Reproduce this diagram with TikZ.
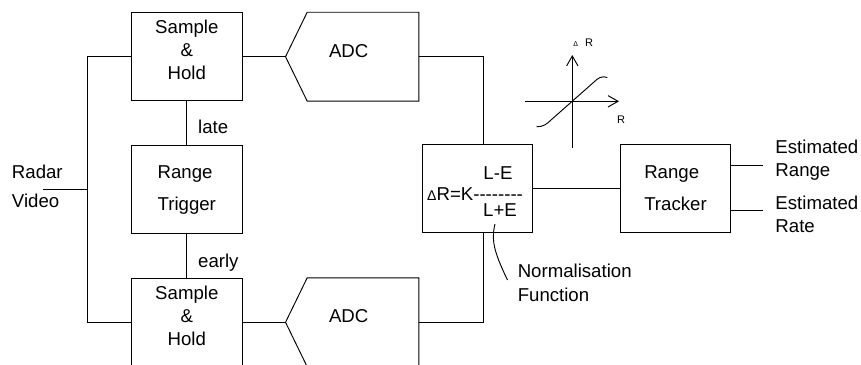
\documentclass[tikz,border=0pt]{standalone}
\usepackage{fontspec}
\setmainfont{Liberation Sans}
\usetikzlibrary{arrows.meta}

\begin{document}
\begin{tikzpicture}[x=0.03cm,y=-0.03cm,line width=0.8pt,>={Straight Barb[length=0.3cm,width=0.34cm]},
  txt/.style={inner sep=0pt,align=left,font=\fontsize{15.9}{19}\selectfont},
  box/.style={draw,minimum width=3.31cm,minimum height=2.64cm,inner sep=0pt,font=\fontsize{15.9}{19.5}\selectfont},
  shbox/.style={box,align=center,text height=1.77cm,text depth=0.4cm},
  rbox/.style={box,align=left,font=\fontsize{15.9}{27.5}\selectfont},
  adc/.style={box,draw=none,text width=2.04cm,inner xsep=0.64cm,text height=0.3cm,text depth=0.26cm},
  small/.style={inner sep=0pt,font=\fontsize{9.4}{9.4}\selectfont}]
\clip (0,0) rectangle (861,365);
\fill[white] (0,0) rectangle (861,365);
% front end
\node[shbox] (sh1) at (186.8,56.7) {Sample\\\&\\Hold};
\node[rbox] (rt) at (186.8,189.7) {Range\\Trigger};
\node[shbox] (sh2) at (186.8,322.3) {Sample\\\&\\Hold};
\node[adc] (adc1) at (363,56.7) {ADC};
\node[adc] (adc2) at (363,322.3) {ADC};
\coordinate (adc1tip) at ([xshift=-0.65cm]adc1.west);
\coordinate (adc2tip) at ([xshift=-0.65cm]adc2.west);
\draw (adc1.north west) -- (adc1.north east) -- (adc1.south east) -- (adc1.south west) -- (adc1tip) -- cycle;
\draw (adc2.north west) -- (adc2.north east) -- (adc2.south east) -- (adc2.south west) -- (adc2tip) -- cycle;
\node[box] (nf) at (477.5,188.2) {};
\node[rbox] (trk) at (675.5,188.2) {Range\\Tracker};
% labels
\node[txt,anchor=north west,font=\fontsize{15.9}{24.2}\selectfont] (vid) at (11.5,165) {Radar\\Video};
\node[txt,anchor=north west] (late) at (197.7,119.3) {late};
\node[txt,anchor=north west] (early) at (197.7,253.5) {early};
\node[txt,anchor=base west] (dr) at (426.7,200) {{\fontsize{12}{12}\selectfont Δ}R=K-\kern0pt-\kern0pt-\kern0pt-\kern0pt-\kern0pt-\kern0pt-\kern0pt-};
\node[txt,anchor=base west] (lme) at (483,179.3) {L-E};
\node[txt,anchor=base west] (lpe) at (482.7,216.7) {L+E};
\node[txt,anchor=north west,font=\fontsize{15.9}{20.5}\selectfont] (nfn) at (517.3,263.3) {Normalisation\\Function};
\node[txt,anchor=north west] (erng) at (775,140) {Estimated\\Range};
\node[txt,anchor=north west] (erat) at (775,196) {Estimated\\Rate};
\node[small,anchor=base west] (ylab) at (573,46.7) {{\fontsize{6}{6}\selectfont Δ}\hspace{6pt}R};
\node[small,anchor=base west] (xlab) at (616.7,123.5) {R};
% connectors
\coordinate (vin) at (43.3,189.7);
\coordinate (split) at (87.3,189.7);
\draw (vin) -- (split);
\draw (sh1.west) -| (split) |- (sh2.west);
\draw (sh1.south) -- (rt.north);
\draw (rt.south) -- (sh2.north);
\draw (sh1.east) -- (adc1tip);
\draw (sh2.east) -- (adc2tip);
\draw (adc1.east) -| (nf.82);
\draw (adc2.east) -| (nf.-82);
\draw (nf.east) -- (trk.west);
\coordinate (orng) at (763.3,165.7);
\coordinate (orat) at (763.3,210);
\draw (trk.east |- orng) -- (orng);
\draw (trk.east |- orat) -- (orat);
\coordinate (nfa) at (495,224);
\coordinate (nfb) at (507.5,280);
\draw (nfa) .. controls (491,240) and (494,252) .. (nfb);
% transfer curve
\draw[->] (572.3,148.3) -- (572.3,55);
\draw[->] (525,101.3) -- (619,101.3);
\draw (536.7,126.7) .. controls (543,127) and (547,124) .. (551,120) -- (594,82) .. controls (598,78) and (602,75.5) .. (607.3,77.5);
\end{tikzpicture}
\end{document}
